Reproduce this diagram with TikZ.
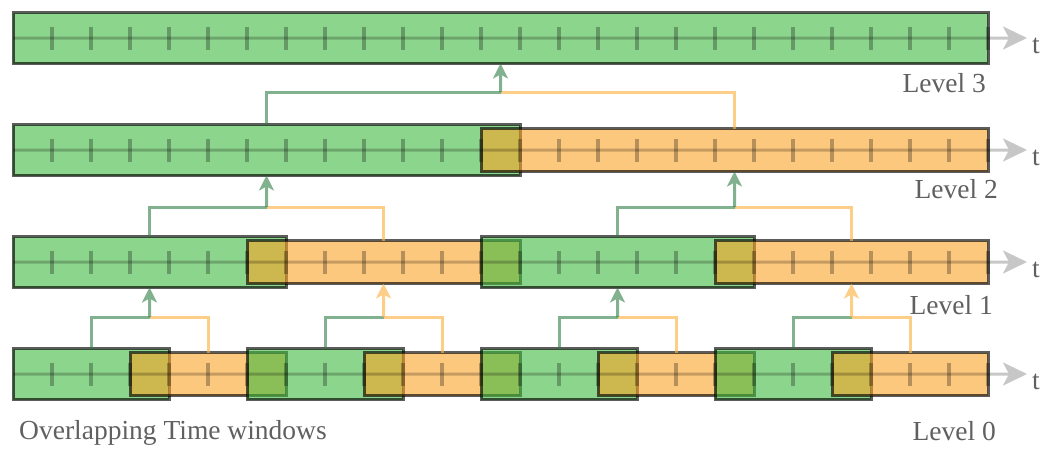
\documentclass[tikz,border=0pt]{standalone}
\usepackage{fontspec}
\setmainfont{Liberation Serif}
\usetikzlibrary{arrows.meta}
\definecolor{gbase}{RGB}{63,185,63}
\definecolor{obase}{RGB}{250,163,38}
\definecolor{gline}{RGB}{46,125,70}
\definecolor{oline}{RGB}{252,180,70}
\definecolor{txt}{RGB}{96,96,96}
\tikzset{
  win/.style={rectangle, inner sep=0pt, outer sep=0pt, draw=black, line width=3pt, draw opacity=0.64, fill opacity=0.6},
  gwin/.style={win, fill=gbase, minimum height=51pt},
  owin/.style={win, fill=obase, minimum height=43pt},
  conn/.style={line width=3pt, line cap=butt},
  gconn/.style={conn, draw=gline, draw opacity=0.6},
  oconn/.style={conn, draw=oline, draw opacity=0.65},
  garr/.style={conn, draw=gline, fill=gline, -{Stealth[length=15pt,width=15pt,inset=4pt]}},
  oarr/.style={conn, draw=oline, fill=oline, -{Stealth[length=15pt,width=15pt,inset=4pt]}},
  axisline/.style={line width=3pt, draw=black, fill=black, -{Stealth[length=24pt,width=23pt,inset=6pt]}},
  tickmark/.style={line width=4pt, draw=black, draw opacity=0.28},
  lbl/.style={inner sep=0pt, text=txt, font=\fontsize{27.5}{30}\selectfont},
  ggroup/.style={transparency group, opacity=0.6},
  ogroup/.style={transparency group, opacity=0.65},
  agroup/.style={transparency group, opacity=0.22},
}
\begin{document}
\begin{tikzpicture}[x=1pt,y=-1pt]
\useasboundingbox (0,0) rectangle (1052,453);
% Level 3
\node[gwin, minimum width=975pt] (w3) at (500.5,38) {};
% Level 2
\node[gwin, minimum width=507pt] (w2a) at (266.5,150) {};
\node[owin, minimum width=507pt] (w2b) at (734.5,150) {};
% Level 1
\node[gwin, minimum width=273pt] (w1a) at (149.5,262) {};
\node[owin, minimum width=273pt] (w1b) at (383.5,262) {};
\node[gwin, minimum width=273pt] (w1c) at (617.5,262) {};
\node[owin, minimum width=273pt] (w1d) at (851.5,262) {};
% Level 0
\node[gwin, minimum width=156pt] (w0a) at (91,374) {};
\node[owin, minimum width=156pt] (w0b) at (208,374) {};
\node[gwin, minimum width=156pt] (w0c) at (325,374) {};
\node[owin, minimum width=156pt] (w0d) at (442,374) {};
\node[gwin, minimum width=156pt] (w0e) at (559,374) {};
\node[owin, minimum width=156pt] (w0f) at (676,374) {};
\node[gwin, minimum width=156pt] (w0g) at (793,374) {};
\node[owin, minimum width=156pt] (w0h) at (910,374) {};
% axes and ticks
\foreach \yc/\nm in {38/3,150/2,262/1,374/0} {
  \coordinate (as\nm) at (13,\yc);
  \coordinate (ae\nm) at (1027,\yc);
  \begin{scope}[agroup]
    \draw[axisline] (as\nm) -- (ae\nm);
  \end{scope}
  \foreach \i in {1,...,25} \draw[tickmark] ({13+39*\i},\yc-11.5) -- ++(0,23.5);
  \node[lbl, anchor=base west] (t\nm) at (1032,\yc+15) {t};
}
% junctions
\coordinate (j1a) at (149.5,317);
\coordinate (j1b) at (383.5,317);
\coordinate (j1c) at (617.5,317);
\coordinate (j1d) at (851.5,317);
\coordinate (j2a) at (266.5,207);
\coordinate (j2b) at (734.5,207);
\coordinate (j3) at (500.5,92);
% Level 0 -> 1
\draw[gconn] (w0a.north) |- (j1a);
\draw[oconn] (w0b.north) |- (j1a);
\begin{scope}[ggroup]\draw[garr] (j1a) -- (w1a.south);\end{scope}
\draw[gconn] (w0c.north) |- (j1b);
\draw[oconn] (w0d.north) |- (j1b);
\begin{scope}[ogroup]\draw[oarr] (j1b) -- (w1b.south);\end{scope}
\draw[gconn] (w0e.north) |- (j1c);
\draw[oconn] (w0f.north) |- (j1c);
\begin{scope}[ggroup]\draw[garr] (j1c) -- (w1c.south);\end{scope}
\draw[gconn] (w0g.north) |- (j1d);
\draw[oconn] (w0h.north) |- (j1d);
\begin{scope}[ogroup]\draw[oarr] (j1d) -- (w1d.south);\end{scope}
% Level 1 -> 2
\draw[gconn] (w1a.north) |- (j2a);
\draw[oconn] (w1b.north) |- (j2a);
\begin{scope}[ggroup]\draw[garr] (j2a) -- (w2a.south);\end{scope}
\draw[gconn] (w1c.north) |- (j2b);
\draw[oconn] (w1d.north) |- (j2b);
\begin{scope}[ggroup]\draw[garr] (j2b) -- (w2b.south);\end{scope}
% Level 2 -> 3
\draw[gconn] (w2a.north) |- (j3);
\draw[oconn] (w2b.north) |- (j3);
\begin{scope}[ggroup]\draw[garr] (j3) -- (w3.south);\end{scope}
% labels
\node[lbl, anchor=base east] (l3) at (986,92) {Level 3};
\node[lbl, anchor=base east] (l2) at (998,198) {Level 2};
\node[lbl, anchor=base east] (l1) at (993,314) {Level 1};
\node[lbl, anchor=base east] (l0) at (996,440) {Level 0};
\node[lbl, anchor=base west] (ov) at (19,439) {Overlapping Time windows};
\end{tikzpicture}
\end{document}
